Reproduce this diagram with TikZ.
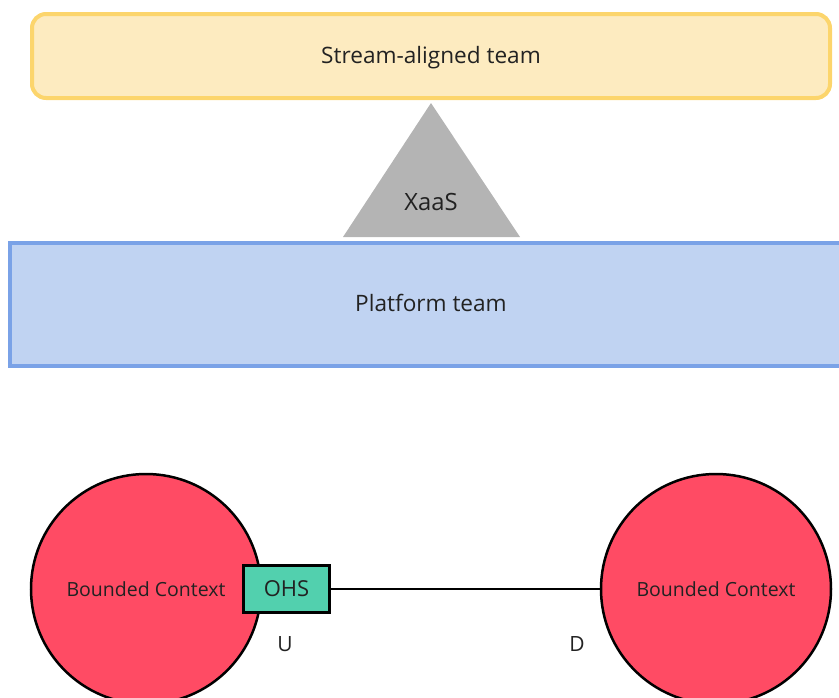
\documentclass[tikz,border=0pt]{standalone}
\usepackage{fontspec}
\setmainfont{Open Sans}
\usetikzlibrary{shapes.geometric}
\definecolor{sayfill}{HTML}{FDEBC0}
\definecolor{sayline}{HTML}{FCD56C}
\definecolor{ptfill}{HTML}{C0D3F2}
\definecolor{ptline}{HTML}{7AA2E7}
\definecolor{xaas}{HTML}{B4B4B4}
\definecolor{bcfill}{HTML}{FF4B64}
\definecolor{ohsfill}{HTML}{52D0AE}
\definecolor{ink}{HTML}{222222}
\tikzset{
  team/.style={draw, line width=4pt, inner sep=0pt},
  teamtext/.style={text=ink, font=\fontsize{22.6}{26}\selectfont},
  bc/.style={circle, draw=black, line width=2.5pt, fill=bcfill, minimum size=230pt, inner sep=0pt, text=ink, font=\fontsize{19.5}{23}\selectfont},
  ohsbox/.style={draw=black, line width=2.5pt, fill=ohsfill, minimum width=86pt, minimum height=47pt, inner sep=0pt, text=ink, font=\fontsize{22}{26}\selectfont},
  tag/.style={text=ink, font=\fontsize{21}{25}\selectfont},
}
\begin{document}
\begin{tikzpicture}[x=1pt, y=-1pt]
  \useasboundingbox (0,0) rectangle (839,697);
  % stream-aligned team
  \node[team, draw=sayline, fill=sayfill, rounded corners=14pt, minimum width=798pt, minimum height=84pt] (sat) at (431,56) {};
  \node[teamtext] (satl) at (431,58) {Stream-aligned team};
  % XaaS triangle
  \coordinate (ta) at (431,103);
  \coordinate (tl) at (343,237);
  \coordinate (tr) at (520,237);
  \fill[xaas] (ta) -- (tl) -- (tr) -- cycle;
  \node[tag, font=\fontsize{23.8}{28}\selectfont] (xaas) at (431,202) {XaaS};
  % platform team (runs past the right edge)
  \begin{scope}
    \clip (0,0) rectangle (839,697);
    \node[team, draw=ptline, fill=ptfill, minimum width=850pt, minimum height=123pt] (pt) at (435,304.5) {};
  \end{scope}
  \node[teamtext] (ptl) at (431,303) {Platform team};
  % bounded contexts
  \node[bc] (bcl) at (146,589) {Bounded Context};
  \node[bc] (bcr) at (716,589) {Bounded Context};
  \node[ohsbox] (ohs) at (286.5,589) {OHS};
  \draw[line width=1.2pt, black] (ohs.east) -- (bcr.west);
  \node[tag] (u) at (285,644) {U};
  \node[tag] (d) at (577,644) {D};
\end{tikzpicture}
\end{document}
